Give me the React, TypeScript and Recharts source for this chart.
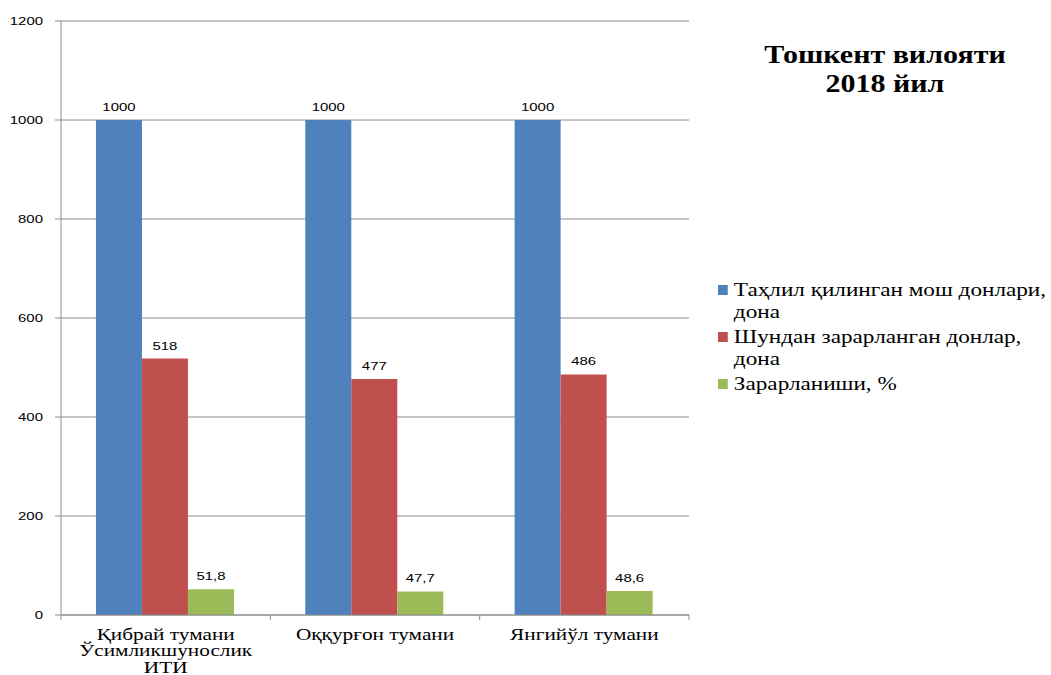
import React from "react";
import { BarChart, Bar, XAxis, YAxis, CartesianGrid, LabelList } from "recharts";

const categories = ["Қибрай тумани\nЎсимликшунослик\nИТИ", "Оққурғон тумани", "Янгийўл тумани"];
const analyzed = [1000, 1000, 1000];
const damaged = [518, 477, 486];
const percent = [51.8, 47.7, 48.6];
const yTicks = [0, 200, 400, 600, 800, 1000, 1200];
const seriesNames = ["Таҳлил қилинган мош донлари,\nдона", "Шундан зарарланган донлар,\nдона", "Зарарланиши, %"];
const colors = ["#4F81BD", "#C0504D", "#9BBB59"];
const titleLines = ["Тошкент вилояти", "2018 йил"];

const data = categories.map((c, i) => ({ name: c, a: analyzed[i], b: damaged[i], c: percent[i] }));

const fmt = (v: any) => String(v).replace(".", ",");

const XTick = (props: any) => {
  const { x, y, payload, index } = props;
  const lines = String(payload.value).split("\n");
  const half = typeof payload.offset === "number" ? payload.offset : 0;
  const last = index === categories.length - 1;
  return (
    <g>
      {half > 0 && <line x1={x - half} x2={x - half} y1={y} y2={y + 5} stroke="#8c8c8c" />}
      {half > 0 && last && <line x1={x + half} x2={x + half} y1={y} y2={y + 5} stroke="#8c8c8c" />}
      <g transform={`translate(${x},${y}) scale(1.33,1)`}>
        {lines.map((l, i) => (
          <text key={i} x={0} y={25 + i * 16.5} textAnchor="middle" fontFamily="Liberation Serif" fontSize={16} fill="#000">
            {l}
          </text>
        ))}
      </g>
    </g>
  );
};

const YTick = (props: any) => {
  const { x, y, payload } = props;
  return (
    <g transform={`translate(${x},${y}) scale(1.3,1)`}>
      <text x={0} y={0} dy="0.36em" textAnchor="end" fontFamily="Liberation Sans" fontSize={11.5} fill="#000">
        {payload.value}
      </text>
    </g>
  );
};

const DataLabel = (props: any) => {
  const { x, y, width, value } = props;
  return (
    <g transform={`translate(${x + width / 2},${y - 9}) scale(1.3,1)`}>
      <text x={0} y={0} textAnchor="middle" fontFamily="Liberation Sans" fontSize={11.5} fill="#000">
        {fmt(value)}
      </text>
    </g>
  );
};

const LegendBox = () => (
  <div
    style={{
      position: "absolute",
      left: 718,
      top: 279,
      fontFamily: "Liberation Serif",
      fontSize: 19,
      color: "#000",
      lineHeight: "22px",
      transform: "scale(1.22,1)",
      transformOrigin: "0 0",
      whiteSpace: "nowrap",
    }}
  >
    {seriesNames.map((n, i) => (
      <div key={i} style={{ display: "flex", alignItems: "flex-start", marginBottom: 3 }}>
        <div style={{ width: 8, height: 10, background: colors[i], marginTop: 6, marginRight: 5, flex: "none" }} />
        <div>
          {n.split("\n").map((l, j) => (
            <div key={j}>{l}</div>
          ))}
        </div>
      </div>
    ))}
  </div>
);

export default function App() {
  return (
    <div style={{ position: "absolute", left: 0, top: 0, width: 1051, height: 675, background: "#fff", overflow: "hidden" }}>
      <BarChart width={1051} height={675} data={data} margin={{ top: 21, right: 362, left: 0, bottom: 0 }} barCategoryGap="16.7%" barGap={0}>
        <CartesianGrid vertical={false} stroke="#8c8c8c" strokeWidth={1} />
        <XAxis dataKey="name" tick={<XTick />} interval={0} axisLine={{ stroke: "#8c8c8c" }} tickLine={false} tickSize={0} tickMargin={0} height={60} />
        <YAxis
          domain={[0, 1200]}
          ticks={yTicks}
          width={61}
          axisLine={{ stroke: "#8c8c8c" }}
          tickLine={{ stroke: "#8c8c8c" }}
          tickSize={6}
          tickMargin={12}
          tick={<YTick />}
        />
        <Bar dataKey="a" fill={colors[0]} isAnimationActive={false}>
          <LabelList dataKey="a" content={<DataLabel />} />
        </Bar>
        <Bar dataKey="b" fill={colors[1]} isAnimationActive={false}>
          <LabelList dataKey="b" content={<DataLabel />} />
        </Bar>
        <Bar dataKey="c" fill={colors[2]} isAnimationActive={false}>
          <LabelList dataKey="c" content={<DataLabel />} />
        </Bar>
      </BarChart>
      <LegendBox />
      <div
        style={{
          position: "absolute",
          left: 720,
          top: 40,
          width: 330,
          textAlign: "center",
          fontFamily: "Liberation Serif",
          fontWeight: "bold",
          fontSize: 25,
          lineHeight: "29px",
          color: "#000",
          transform: "scale(1.2,1)",
          transformOrigin: "165px 0",
        }}
      >
        {titleLines.map((l, i) => (
          <div key={i}>{l}</div>
        ))}
      </div>
    </div>
  );
}
